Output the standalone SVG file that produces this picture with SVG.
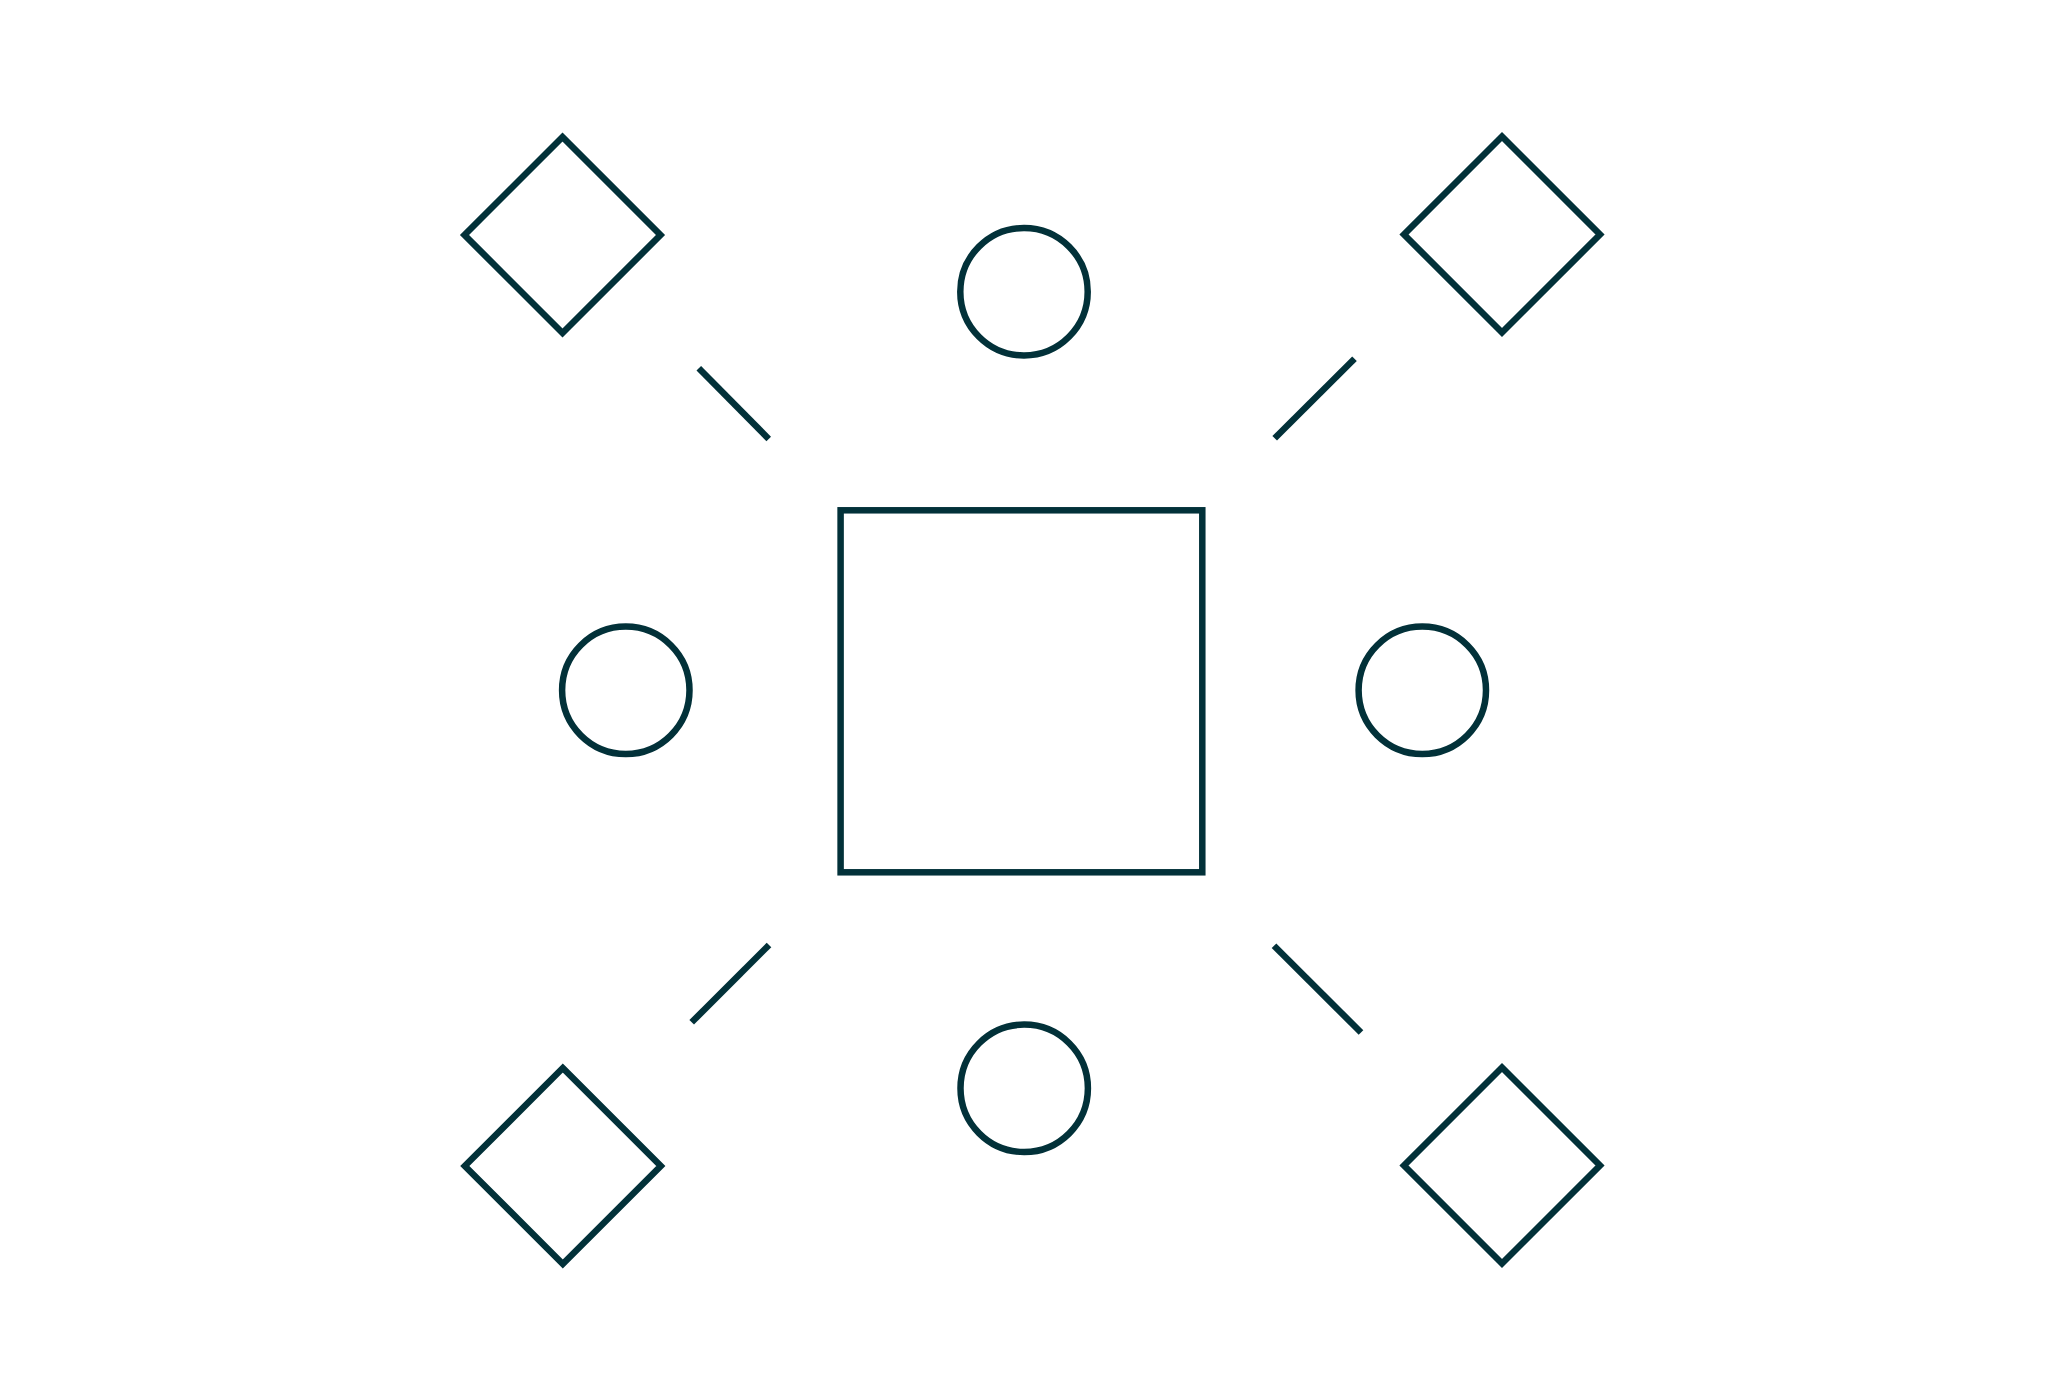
<svg xmlns="http://www.w3.org/2000/svg" width="2065" height="1400" viewBox="0 0 2065 1400">
  <style>
    .shape { fill: none; stroke: #023139; stroke-width: 6.5; stroke-linejoin: miter; }
    .conn { fill: none; stroke: #023139; stroke-width: 6.5; stroke-linecap: butt; }
  </style>
  <rect x="0" y="0" width="2065" height="1400" fill="#ffffff"/>
  <g id="center-box">
    <rect class="shape" x="840.6" y="510.3" width="361.7" height="362"/>
  </g>
  <g id="circle-top">
    <circle class="shape" cx="1024" cy="291.7" r="63.7"/>
  </g>
  <g id="circle-left">
    <circle class="shape" cx="625.8" cy="690.3" r="63.7"/>
  </g>
  <g id="circle-right">
    <circle class="shape" cx="1422.3" cy="690.3" r="63.7"/>
  </g>
  <g id="circle-bottom">
    <circle class="shape" cx="1024.2" cy="1088.3" r="63.7"/>
  </g>
  <g id="diamond-top-left">
    <polygon class="shape" points="562.5,137 660.5,235 562.5,333 464.5,235"/>
  </g>
  <g id="diamond-top-right">
    <polygon class="shape" points="1502,136.5 1600,234.5 1502,332.5 1404,234.5"/>
  </g>
  <g id="diamond-bottom-left">
    <polygon class="shape" points="562.8,1068 660.8,1166 562.8,1264 464.8,1166"/>
  </g>
  <g id="diamond-bottom-right">
    <polygon class="shape" points="1502,1067.5 1600,1165.5 1502,1263.5 1404,1165.5"/>
  </g>
  <g id="connectors">
    <line class="conn" x1="698.8" y1="368.2" x2="768.7" y2="439"/>
    <line class="conn" x1="1354.5" y1="358.7" x2="1274.7" y2="438.3"/>
    <line class="conn" x1="769" y1="945" x2="691.7" y2="1022.3"/>
    <line class="conn" x1="1274" y1="945.7" x2="1361" y2="1032.5"/>
  </g>
</svg>
